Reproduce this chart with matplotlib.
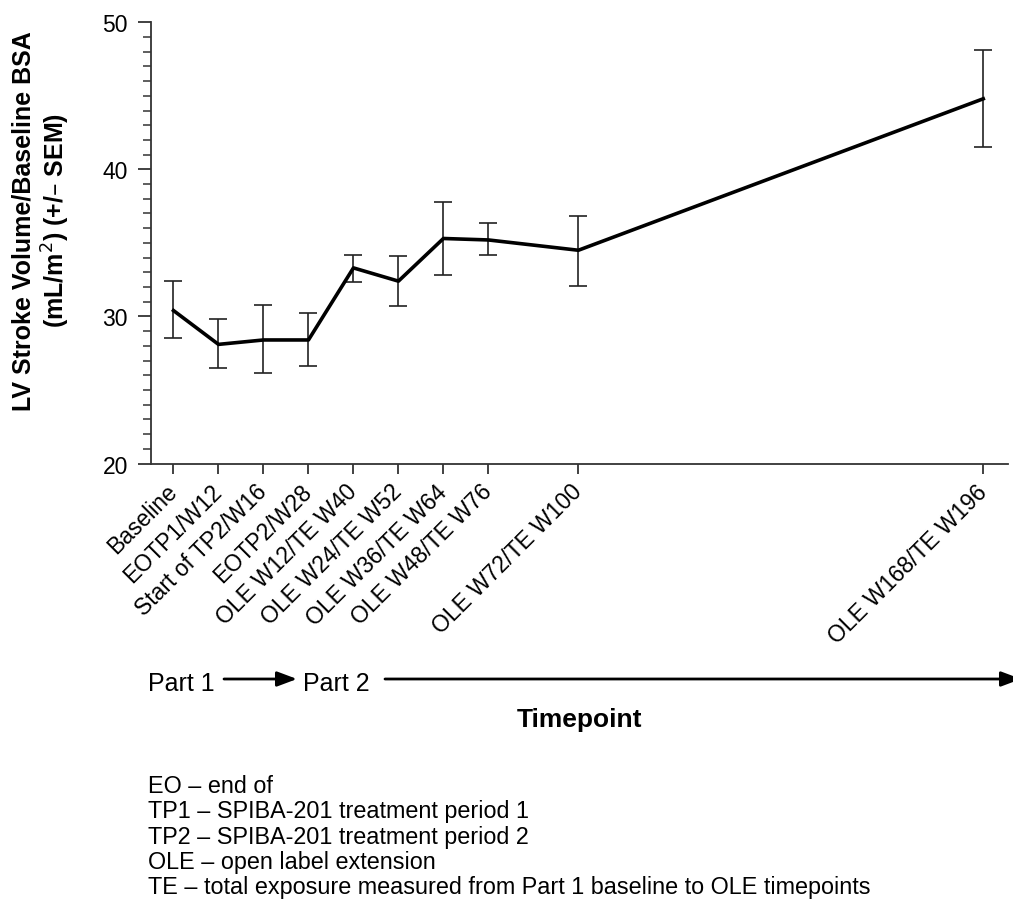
import matplotlib
matplotlib.use("Agg")
import matplotlib.pyplot as plt
import numpy as np
from matplotlib.patches import FancyArrowPatch
from matplotlib.ticker import MultipleLocator

plt.rcParams['font.family'] = ['Liberation Sans', 'DejaVu Sans']

# ---- data ----
timepoints = ["Baseline", "EOTP1/W12", "Start of TP2/W16", "EOTP2/W28",
              "OLE W12/TE W40", "OLE W24/TE W52", "OLE W36/TE W64",
              "OLE W48/TE W76", "OLE W72/TE W100", "OLE W168/TE W196"]
slots = [0, 1, 2, 3, 4, 5, 6, 7, 9, 18]
means = [30.4, 28.1, 28.4, 28.4, 33.3, 32.4, 35.3, 35.2, 34.5, 44.8]
upper = [32.4, 29.8, 30.8, 30.25, 34.2, 34.1, 37.75, 36.35, 36.8, 48.1]
lower = [28.5, 26.5, 26.15, 26.65, 32.35, 30.7, 32.85, 34.15, 32.05, 41.5]

footnotes = ["EO \u2013 end of",
             "TP1 \u2013 SPIBA-201 treatment period 1",
             "TP2 \u2013 SPIBA-201 treatment period 2",
             "OLE \u2013 open label extension",
             "TE \u2013 total exposure measured from Part 1 baseline to OLE timepoints"]

W, H = 1013, 912
fig = plt.figure(figsize=(W / 100, H / 100), dpi=100)
ax = fig.add_axes([151 / W, 1 - 464.5 / H, (1008 - 151) / W, (464.5 - 23.3) / H])

m = np.array(means)
yerr = [m - np.array(lower), np.array(upper) - m]
ax.errorbar(slots, means, yerr=yerr, color='black', lw=2.6, elinewidth=1.2,
            capsize=6.5, capthick=1.2, ecolor='#222222')

ax.set_xlim(-0.5, 18.55)
ax.set_ylim(20, 50)
ax.yaxis.set_major_locator(MultipleLocator(10))
ax.yaxis.set_minor_locator(MultipleLocator(1))
ax.set_xticks(slots)
ax.set_xticklabels(timepoints, rotation=45, ha='right', va='center',
                   rotation_mode='anchor', fontsize=16.5)
for s in ['top', 'right']:
    ax.spines[s].set_visible(False)
for s in ['left', 'bottom']:
    ax.spines[s].set_color('#333333')
    ax.spines[s].set_linewidth(1.3)
ax.tick_params(axis='y', which='major', length=9.5, width=1.3, color='#333333',
               labelsize=16.5, pad=7)
ax.tick_params(axis='y', which='minor', length=5.5, width=1.1, color='#333333')
ax.tick_params(axis='x', which='major', length=7, width=1.3, color='#333333', pad=10.5)

# y label
fig.text(24 / W, 1 - 221 / H, "LV Stroke Volume/Baseline BSA", rotation=90,
         ha='center', va='center', fontsize=18, fontweight='bold')
fig.text(56 / W, 1 - 221 / H, "(mL/m$^{2}$) (+/\u2013 SEM)", rotation=90,
         ha='center', va='center', fontsize=18, fontweight='bold')

# Part 1 -> Part 2
fig.text(148 / W, 1 - 690.7 / H, "Part 1", ha='left', va='baseline', fontsize=18)
fig.text(303 / W, 1 - 690.7 / H, "Part 2", ha='left', va='baseline', fontsize=18)
for x0, x1 in [(224, 297), (385, 1021)]:
    arr = FancyArrowPatch((x0 / W, 1 - 680 / H), (x1 / W, 1 - 680 / H),
                          transform=fig.transFigure,
                          arrowstyle='-|>,head_length=1.2,head_width=0.45',
                          mutation_scale=10, lw=2, color='black',
                          shrinkA=0, shrinkB=0)
    fig.patches.append(arr)

fig.text(579 / W, 1 - 727 / H, "Timepoint", ha='center', va='baseline',
         fontsize=19, fontweight='bold')

for i, t in enumerate(footnotes):
    fig.text(148 / W, 1 - (793 + 25.3 * i) / H, t, ha='left', va='baseline',
             fontsize=16.8)

fig.savefig("out.png", dpi=100, facecolor='white')
